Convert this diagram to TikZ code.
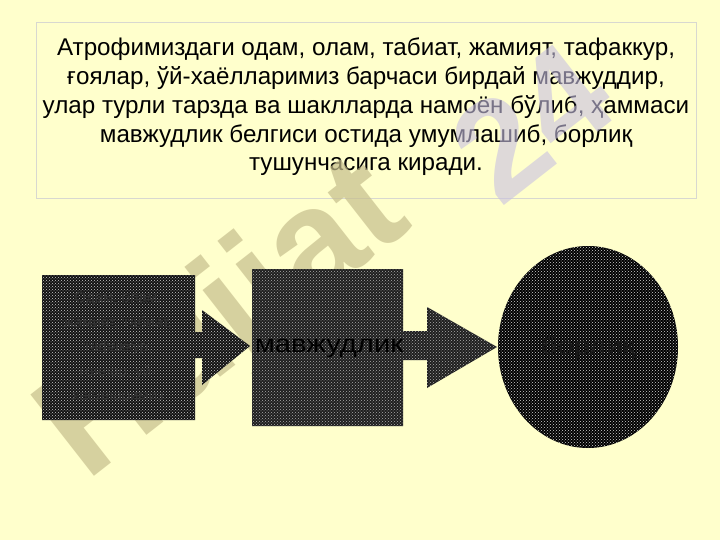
\documentclass[tikz,border=0pt]{standalone}
\usepackage{fontspec}
\setmainfont{Liberation Sans}
\usetikzlibrary{patterns}
\definecolor{bgyellow}{HTML}{FFFFCC}
\definecolor{boxline}{HTML}{D8D8D0}
\definecolor{wmkhaki}{HTML}{C6BE8C}
\definecolor{wmlav}{HTML}{C8C0E2}
\tikzset{
  blockA/.style={fill=black!93, draw=none},
  blockB/.style={fill=black!88, draw=none},
  tex/.style={pattern=crosshatch dots, pattern color=gray!70},
  innertext/.style={align=center, font=\fontsize{15}{24.5}\selectfont},
}
\begin{document}
\begin{tikzpicture}[x=1pt,y=-1pt]
\fill[bgyellow] (0,0) rectangle (720,540);
\useasboundingbox (0,0) rectangle (720,540);
% title box
\node[draw=boxline, line width=1pt, fill=bgyellow, minimum width=660pt, minimum height=176pt, anchor=north west] (titlebox) at (36,22) {};
\node[align=center, font=\fontsize{24.2}{28.7}\selectfont] (title) at (366,107)
 {Атрофимиздаги одам, олам, табиат, жамият, тафаккур,\\
  ғоялар, ўй-хаёлларимиз барчаси бирдай мавжуддир,\\
  улар турли тарзда ва шаклларда намоён бўлиб, ҳаммаси\\
  мавжудлик белгиси остида умумлашиб, борлиқ\\
  тушунчасига киради.};
% watermark
\begin{scope}[opacity=0.7]
\node[rotate=38, text=wmkhaki, font=\fontsize{150}{150}\selectfont\bfseries, anchor=west, inner sep=0pt] (wm) at (62,452) {Hujjat};
\end{scope}
\begin{scope}[opacity=0.6]
\node[rotate=38, text=wmlav, font=\fontsize{140}{140}\selectfont\bfseries, anchor=west, inner sep=0pt] (wm2) at (470,170) {24};
\end{scope}
% left block arrow
\path[blockA] (42,275) -- (195,275) -- (195,332) -- (202,332) -- (202,310) -- (250,346) -- (202,385) -- (202,358) -- (195,358) -- (195,420) -- (42,420) -- cycle;
\path[tex, pattern color=gray!40] (42,275) -- (195,275) -- (195,332) -- (202,332) -- (202,310) -- (250,346) -- (202,385) -- (202,358) -- (195,358) -- (195,420) -- (42,420) -- cycle;
% middle block arrow
\path[blockB] (252,269) -- (403,269) -- (403,331) -- (427,331) -- (427,307) -- (497,347) -- (427,388) -- (427,360) -- (403,360) -- (403,426) -- (252,426) -- cycle;
\path[tex, pattern color=gray!65] (252,269) -- (403,269) -- (403,331) -- (427,331) -- (427,307) -- (497,347) -- (427,388) -- (427,360) -- (403,360) -- (403,426) -- (252,426) -- cycle;
% ellipse
\fill[black] (588,347) ellipse [x radius=90, y radius=101];
\path[tex, pattern color=gray!35] (588,347) ellipse [x radius=90, y radius=101];
% texts
\node[innertext, text=black!80] (left) at (118,348) {Одам, олам,\\ жамият, табиат,\\ тафаккур,\\ ғоялар, уй-\\ хаёлларимиз};
\node[innertext, text=black, font=\fontsize{25}{28}\selectfont, xscale=1.17] (mid) at (329,348) {мавжудлик};
\node[innertext, text=black!90, font=\fontsize{25}{28}\selectfont, xscale=1.17] (right) at (588,348) {борлиқ};
\end{tikzpicture}
\end{document}
